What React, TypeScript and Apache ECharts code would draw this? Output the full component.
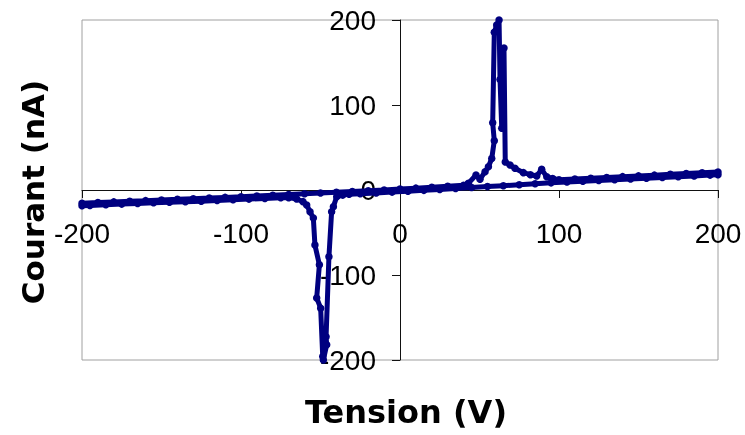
import React, { useEffect, useRef } from "react";
import * as echarts from "echarts";

// Forward sweep (V increasing) : [tension V, courant nA]
const forwardSweep: [number, number][] = [
  [-200, -15.5], [-190, -14.8], [-180, -14.0], [-170, -13.2], [-160, -12.5],
  [-150, -11.7], [-140, -11.0], [-130, -10.2], [-120, -9.5], [-110, -8.7],
  [-100, -8.0], [-90, -7.1], [-80, -6.2], [-70, -5.3], [-60, -4.4],
  [-50, -3.5], [-40, -2.6], [-30, -1.7], [-20, -0.8], [-10, 0.1],
  [0, 1.1], [10, 2.2], [20, 3.3], [30, 4.4], [40, 5.5],
  [43, 7.8], [47.8, 17.6], [50.3, 12.6], [53.5, 21.5], [55.6, 27.4],
  [57.7, 37], [59.3, 58], [58.3, 79], [59.3, 185.5], [60.8, 194],
  [62.3, 200], [62.9, 130], [64, 72.6], [65.4, 167], [66.2, 33],
  [69.2, 29.4], [72.3, 25.5], [77.6, 20.4], [82, 18], [86, 16.5],
  [89.1, 24.3], [92.3, 15.5], [96, 13.5], [100, 12.1], [110, 13.0],
  [120, 13.9], [130, 14.8], [140, 15.7], [150, 16.6], [160, 17.5],
  [170, 18.4], [180, 19.3], [190, 20.2], [200, 21.1],
];

// Reverse sweep (V decreasing)
const reverseSweep: [number, number][] = [
  [200, 17.9], [195, 17.5], [185, 16.6], [175, 15.7], [165, 14.8],
  [155, 13.9], [145, 13.0], [135, 12.1], [125, 11.2], [115, 10.3],
  [105, 9.4], [95, 8.4], [85, 7.3], [75, 6.2], [65, 5.1],
  [55, 4.0], [45, 2.9], [35, 1.8], [25, 0.7], [15, -0.4],
  [5, -1.5], [-5, -2.5], [-15, -3.4], [-25, -4.3], [-32, -5.1],
  [-36, -6.0], [-39.8, -8], [-41.9, -19.6], [-43, -25.5], [-44.7, -78.5],
  [-46.5, -172.5], [-46.1, -182], [-48.2, -200], [-48.6, -196], [-49.9, -139],
  [-52.4, -127], [-50.7, -88], [-53.5, -64.7], [-54.5, -33], [-56.6, -25.5],
  [-58.7, -17.6], [-61, -13.7], [-65, -10.5], [-70, -9.0], [-75, -9.1],
  [-85, -9.9], [-95, -10.7], [-105, -11.5], [-115, -12.3], [-125, -13.1],
  [-135, -13.8], [-145, -14.4], [-155, -15.0], [-165, -15.8], [-175, -16.6],
  [-185, -17.4], [-195, -18.2], [-200, -18.6],
];

const xTitle = "Tension (V)";
const yTitle = "Courant (nA)";
const axisMin = -200;
const axisMax = 200;
const axisStep = 100;

export default function App() {
  const ref = useRef<HTMLDivElement>(null);
  useEffect(() => {
    if (!ref.current) return;
    const chart = echarts.init(ref.current, null, { renderer: "svg" });
    const lineColor = "#000080";
    const seriesBase = {
      type: "line" as const,
      symbol: "circle",
      symbolSize: 7.5,
      showAllSymbol: true,
      clip: false,
      lineStyle: { color: lineColor, width: 5 },
      itemStyle: { color: lineColor },
      emphasis: { disabled: true },
    };
    const gridLeft = 82;
    const gridRight = 27;
    const gridTop = 20;
    const gridBottom = 75;
    const gridW = 745 - gridLeft - gridRight;
    const gridH = 435 - gridTop - gridBottom;
    chart.setOption({
      animation: false,
      grid: {
        left: gridLeft,
        right: gridRight,
        top: gridTop,
        bottom: gridBottom,
        show: true,
        borderColor: "#a0a0a0",
        borderWidth: 1,
      },
      xAxis: {
        type: "value",
        min: axisMin,
        max: axisMax,
        interval: axisStep,
        position: "bottom",
        offset: -gridH / 2,
        axisLine: { show: true, onZero: false, lineStyle: { color: "#111", width: 1 } },
        axisTick: { show: true, length: 8, lineStyle: { color: "#111" } },
        splitLine: { show: false },
        axisLabel: {
          margin: 29,
          fontSize: 28,
          fontFamily: "Liberation Sans",
          color: "#000",
        },
      },
      yAxis: {
        type: "value",
        min: axisMin,
        max: axisMax,
        interval: axisStep,
        position: "left",
        offset: -gridW / 2,
        axisLine: { show: true, onZero: false, lineStyle: { color: "#111", width: 1 } },
        axisTick: { show: true, length: 8, lineStyle: { color: "#111" } },
        splitLine: { show: false },
        axisLabel: {
          margin: 24,
          fontSize: 28,
          fontFamily: "Liberation Sans",
          color: "#000",
        },
      },
      graphic: [
        {
          type: "text",
          x: 406,
          y: 412,
          style: {
            text: xTitle,
            font: "bold 32px 'DejaVu Sans'",
            fill: "#000",
            textAlign: "center",
            textVerticalAlign: "middle",
          },
        },
        {
          type: "text",
          x: 33,
          y: 192,
          rotation: Math.PI / 2,
          style: {
            text: yTitle,
            font: "bold 31px 'DejaVu Sans'",
            fill: "#000",
            textAlign: "center",
            textVerticalAlign: "middle",
          },
        },
      ],
      series: [
        { ...seriesBase, name: "aller", data: forwardSweep },
        { ...seriesBase, name: "retour", data: reverseSweep },
      ],
    });
    return () => chart.dispose();
  }, []);
  return (
    <div
      ref={ref}
      style={{ position: "fixed", left: 0, top: 0, width: 745, height: 435 }}
    />
  );
}
